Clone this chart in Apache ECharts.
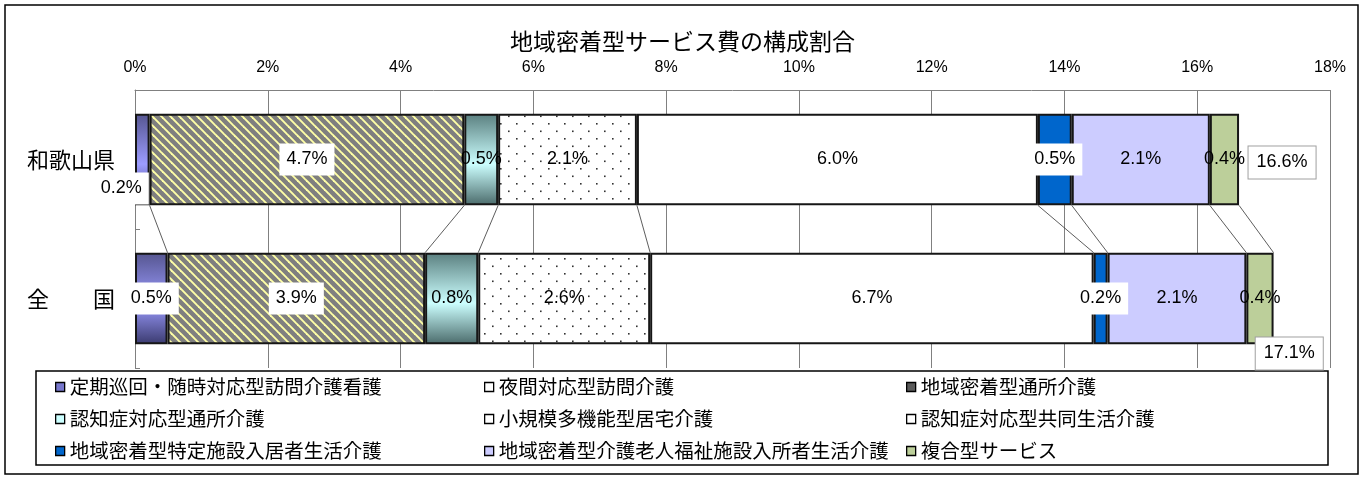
<!DOCTYPE html>
<html>
<head>
<meta charset="utf-8">
<script src="https://cdn.jsdelivr.net/npm/echarts@6/dist/echarts.min.js"></script>
<style>
  html, body { margin: 0; padding: 0; background: #fff; }
  #chart { width: 1365px; height: 479px; }
</style>
</head>
<body>
<div id="chart"></div>
<script>
var chart = echarts.init(document.getElementById('chart'));

var categories = ['和歌山県', '全　　国'];
var seriesNames = [
  '定期巡回・随時対応型訪問介護看護',
  '夜間対応型訪問介護',
  '地域密着型通所介護',
  '認知症対応型通所介護',
  '小規模多機能型居宅介護',
  '認知症対応型共同生活介護',
  '地域密着型特定施設入居者生活介護',
  '地域密着型介護老人福祉施設入所者生活介護',
  '複合型サービス'
];
// 構成割合（%）
var wakayama = [0.22, 0.0, 4.74, 0.51, 2.09, 6.04, 0.51, 2.08, 0.44];
var zenkoku  = [0.49, 0.0, 3.88, 0.80, 2.59, 6.68, 0.21, 2.09, 0.41];
var totals   = [16.6, 17.1];
var xMin = 0, xMax = 18, xStep = 2;

var numFont = "'Liberation Sans Narrow', 'Arial Narrow', 'Liberation Sans', sans-serif";
var jpFont = "'Noto Sans CJK JP', sans-serif";

// パターン塗り
function hatchPattern() {
  var s = 9;
  var c = document.createElement('canvas');
  c.width = s; c.height = s;
  var ctx = c.getContext('2d');
  ctx.fillStyle = '#7f7f7f';
  ctx.fillRect(0, 0, s, s);
  ctx.strokeStyle = '#ffffa6';
  ctx.lineWidth = 1.9;
  for (var o = -s; o <= s; o += s) {
    ctx.beginPath();
    ctx.moveTo(o - 1, -1);
    ctx.lineTo(o + s + 1, s + 1);
    ctx.stroke();
  }
  return { image: c, repeat: 'repeat' };
}
function dotPattern() {
  var c = document.createElement('canvas');
  c.width = 16; c.height = 15;
  var ctx = c.getContext('2d');
  ctx.fillStyle = '#fff';
  ctx.fillRect(0, 0, 16, 15);
  ctx.fillStyle = '#333';
  ctx.fillRect(4, 3, 1.6, 1.6);
  ctx.fillRect(12, 10.5, 1.6, 1.6);
  return { image: c, repeat: 'repeat' };
}
function band(dark1, light, dark2) {
  return new echarts.graphic.LinearGradient(0, 0, 0, 1, [
    { offset: 0, color: dark1 },
    { offset: 0.55, color: light },
    { offset: 1, color: dark2 }
  ]);
}

var fills = [
  band('#55558f', '#9c9cff', '#3a3a6e'),
  '#ffffff',
  hatchPattern(),
  band('#5a7f7f', '#ccffff', '#4a6a6a'),
  dotPattern(),
  '#ffffff',
  '#0066cc',
  '#ccccff',
  '#bccf9a'
];
var iconColors = ['#7777cc', '#ffffff', '#5a5a5a', '#ccffff', '#ffffff', '#ffffff', '#0066cc', '#ccccff', '#bccf9a'];
var whiteBox = [true, false, true, false, false, false, true, false, false];
var labelShift = { '0-0': [-21, 29] };

var gapRatio = 0.34;

var series = seriesNames.map(function (name, i) {
  var vals = [wakayama[i], zenkoku[i]];
  return {
    name: name,
    type: 'bar',
    stack: 'total',
    barCategoryGap: (gapRatio * 100) + '%',
    itemStyle: { color: fills[i], borderColor: '#161616', borderWidth: vals[0] || vals[1] ? 2 : 0 },
    label: {
      show: true,
      position: 'inside',
      color: '#000',
      fontSize: 18,
      fontFamily: numFont,
      backgroundColor: whiteBox[i] ? '#fff' : 'transparent',
      padding: [7, 7],
      formatter: function (p) { return p.value > 0 ? p.value.toFixed(1) + '%' : ''; }
    },
    emphasis: { disabled: true },
    z: 2,
    data: vals.map(function (v, j) {
      var sh = labelShift[i + '-' + j];
      return sh ? { value: v, label: { offset: sh } } : v;
    })
  };
});

// 系列線（累積境界を結ぶ線）
var links = [];
var cw = 0, cz = 0;
for (var i = 0; i < seriesNames.length; i++) {
  cw += wakayama[i];
  cz += zenkoku[i];
  if (wakayama[i] > 0 || zenkoku[i] > 0) links.push([cw, cz, 0]);
}
series.push({
  type: 'custom',
  silent: true,
  z: 1,
  encode: { x: [0, 1], y: 2 },
  renderItem: function (params, api) {
    var bandH = api.size([0, 1])[1];
    var barH = bandH * (1 - gapRatio);
    var p1 = api.coord([api.value(0), 0]);
    var p2 = api.coord([api.value(1), 1]);
    return {
      type: 'line',
      shape: { x1: p1[0], y1: p1[1] + barH / 2, x2: p2[0], y2: p2[1] - barH / 2 },
      style: { stroke: '#333', lineWidth: 0.8 }
    };
  },
  data: links
});

// 合計ラベル
var totalShift = [[45, 3], [19, 55]];
series.push({
  type: 'scatter',
  symbolSize: 0,
  silent: true,
  z: 5,
  itemStyle: { opacity: 1 },
  label: {
    show: true,
    position: 'inside',
    color: '#000',
    fontSize: 18,
    fontFamily: numFont,
    backgroundColor: '#fff',
    borderColor: '#a0a0a0',
    borderWidth: 1,
    padding: [7, 8],
    formatter: function (p) { return p.value[0].toFixed(1) + '%'; }
  },
  data: totals.map(function (t, j) {
    return { value: [t, categories[j]], label: { offset: totalShift[j] } };
  })
});

function legendCol(idx, left) {
  return {
    orient: 'vertical',
    left: left,
    top: 372,
    itemWidth: 9,
    itemHeight: 9,
    itemGap: 12,
    selectedMode: false,
    icon: 'rect',
    textStyle: { fontSize: 19.5, lineHeight: 20, color: '#000', fontFamily: jpFont },
    data: idx.map(function (k) {
      return { name: seriesNames[k], itemStyle: { color: iconColors[k], borderColor: '#000', borderWidth: 1.3 } };
    })
  };
}

option = {
  animation: false,
  title: {
    text: '地域密着型サービス費の構成割合',
    left: 'center',
    top: 25,
    textStyle: { fontSize: 23, fontWeight: 'normal', color: '#000', fontFamily: jpFont }
  },
  grid: { left: 135, right: 35, top: 90, bottom: 111 },
  legend: [legendCol([0, 3, 6], 50), legendCol([1, 4, 7], 479), legendCol([2, 5, 8], 901)],
  xAxis: {
    type: 'value',
    position: 'top',
    min: xMin,
    max: xMax,
    interval: xStep,
    axisLine: { show: true, lineStyle: { color: '#808080', width: 1 } },
    axisTick: { show: false },
    splitLine: { show: true, lineStyle: { color: '#808080', width: 1 } },
    axisLabel: { formatter: '{value}%', color: '#000', fontSize: 16, fontFamily: numFont, margin: 14 }
  },
  yAxis: {
    type: 'category',
    inverse: true,
    data: categories,
    axisLine: { show: true, lineStyle: { color: '#808080' } },
    axisTick: { show: true, inside: true, length: 5, lineStyle: { color: '#808080' } },
    axisLabel: { color: '#000', fontSize: 22, fontFamily: jpFont, margin: 20 }
  },
  graphic: [
    { type: 'rect', z: -1, shape: { x: 5, y: 5, width: 1353, height: 469 }, style: { fill: 'none', stroke: '#000', lineWidth: 1.5 } },
    { type: 'rect', z: -1, shape: { x: 36, y: 371, width: 1292, height: 94 }, style: { fill: '#fff', stroke: '#000', lineWidth: 1.5 } }
  ],
  series: series
};

if (option && typeof option === "object") {
  chart.setOption(option, true);
}
</script>
</body>
</html>
